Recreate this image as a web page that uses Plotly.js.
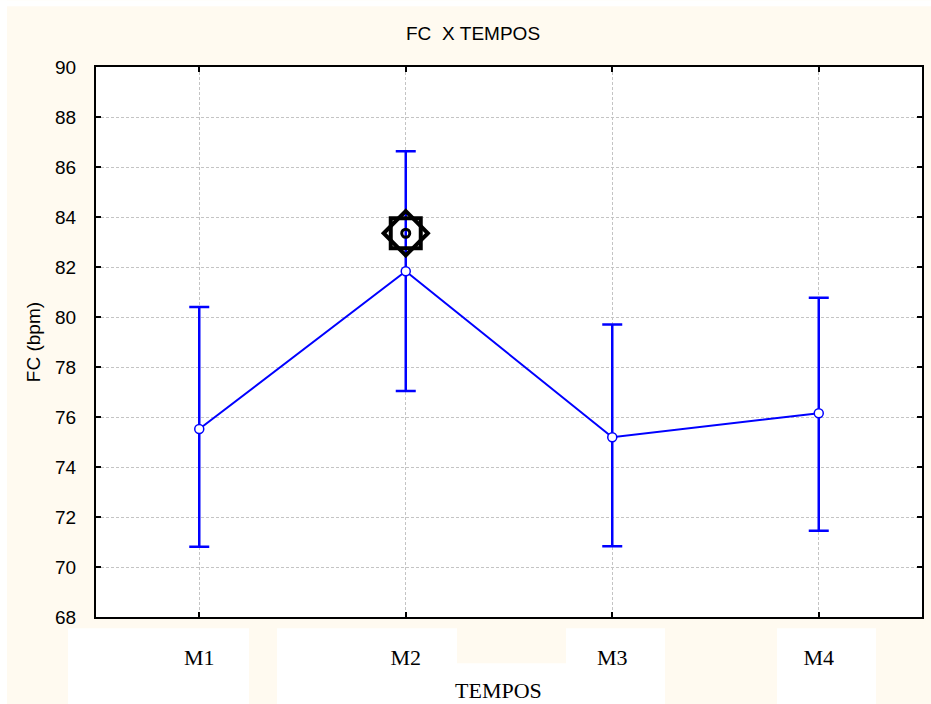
<!DOCTYPE html>
<html>
<head>
<meta charset="utf-8">
<script src="https://cdn.plot.ly/plotly-3.0.1.min.js"></script>
<style>html,body{margin:0;padding:0;background:#fff;}#chart{width:931px;height:704px;}</style>
</head>
<body>
<div id="chart"></div>
<script>
const categories = ["M1", "M2", "M3", "M4"];
const meanValues = [75.52, 81.83, 75.19, 76.15];
const upperValues = [80.40, 86.63, 79.70, 80.77];
const lowerValues = [70.81, 77.04, 70.83, 71.45];
const markerCategory = ["M2"];
const markerValue = [83.35];
const yTicks = [68, 70, 72, 74, 76, 78, 80, 82, 84, 86, 88, 90];

const errPlus = meanValues.map((v, i) => upperValues[i] - v);
const errMinus = meanValues.map((v, i) => v - lowerValues[i]);

const blue = "#0000ff";
const traces = [
  {
    x: categories, y: meanValues, type: "scatter", mode: "lines+markers",
    line: {color: blue, width: 2},
    marker: {symbol: "circle", size: 9, color: "#ffffff", line: {color: blue, width: 1.5}},
    error_y: {type: "data", symmetric: false, array: errPlus, arrayminus: errMinus,
              color: blue, thickness: 2.5, width: 10},
    hoverinfo: "skip", showlegend: false
  },
  {
    x: markerCategory, y: markerValue, type: "scatter", mode: "markers",
    marker: {symbol: "square-open", size: 30, color: "#000", line: {color: "#000", width: 4}},
    hoverinfo: "skip", showlegend: false
  },
  {
    x: markerCategory, y: markerValue, type: "scatter", mode: "markers",
    marker: {symbol: "diamond-open", size: 34, color: "#000", line: {color: "#000", width: 4}},
    hoverinfo: "skip", showlegend: false
  },
  {
    x: markerCategory, y: markerValue, type: "scatter", mode: "markers",
    marker: {symbol: "circle-open", size: 8, color: "#000", line: {color: "#000", width: 3}},
    hoverinfo: "skip", showlegend: false
  }
];

const L = 96, R = 922, T = 66.7, B = 616.7;
const px = x => (x - L) / (R - L);
const py = y => (B - y) / (B - T);
function rect(x0, y0, x1, y1) {
  return {type: "rect", xref: "paper", yref: "paper", layer: "below",
          x0: px(x0), x1: px(x1), y0: py(y1), y1: py(y0),
          fillcolor: "#ffffff", line: {width: 0}};
}
const shapes = [
  rect(0, 0, 931, 6),
  rect(0, 0, 7, 704),
  rect(68, 628, 249, 704),
  rect(277, 628, 457, 704),
  rect(457, 663, 566, 704),
  rect(566, 628, 665, 704),
  rect(777, 628, 876, 704)
];

const sans = "Liberation Sans, Arial, sans-serif";
const serif = "Liberation Serif, Times New Roman, serif";

const layout = {
  width: 931, height: 704,
  paper_bgcolor: "#fffaf0",
  plot_bgcolor: "#ffffff",
  margin: {l: 96, r: 9, t: 67, b: 87, pad: 0},
  xaxis: {
    type: "category", categoryorder: "array", categoryarray: categories,
    range: [-0.5, 3.5],
    showgrid: true, gridcolor: "#c4c4c4", griddash: "3px,2px", gridwidth: 1,
    showline: true, linecolor: "#000", linewidth: 2, mirror: "ticks",
    ticks: "inside", ticklen: 5, tickwidth: 2, tickcolor: "#000",
    ticklabelstandoff: 20,
    tickfont: {family: serif, size: 22, color: "#000"},
    zeroline: false, fixedrange: true
  },
  yaxis: {
    range: [68, 90], tickvals: yTicks, ticktext: yTicks.map(String),
    showgrid: true, gridcolor: "#c4c4c4", griddash: "3px,2px", gridwidth: 1,
    showline: true, linecolor: "#000", linewidth: 2, mirror: "ticks",
    ticks: "inside", ticklen: 5, tickwidth: 2, tickcolor: "#000",
    ticklabelstandoff: 14,
    tickfont: {family: sans, size: 19, color: "#000"},
    title: {text: "FC (bpm)", standoff: 9, font: {family: sans, size: 19, color: "#000"}},
    zeroline: false, fixedrange: true
  },
  annotations: [
    {text: "FC&nbsp;&nbsp;X&nbsp;TEMPOS", xref: "paper", yref: "paper", x: px(473), y: py(33),
     xanchor: "center", yanchor: "middle", showarrow: false,
     font: {family: sans, size: 19, color: "#000"}},
    {text: "TEMPOS", xref: "paper", yref: "paper", x: px(498), y: py(690),
     xanchor: "center", yanchor: "middle", showarrow: false,
     font: {family: serif, size: 22, color: "#000"}}
  ],
  shapes: shapes,
  showlegend: false
};

Plotly.newPlot("chart", traces, layout, {displayModeBar: false, staticPlot: true});
</script>
</body>
</html>
